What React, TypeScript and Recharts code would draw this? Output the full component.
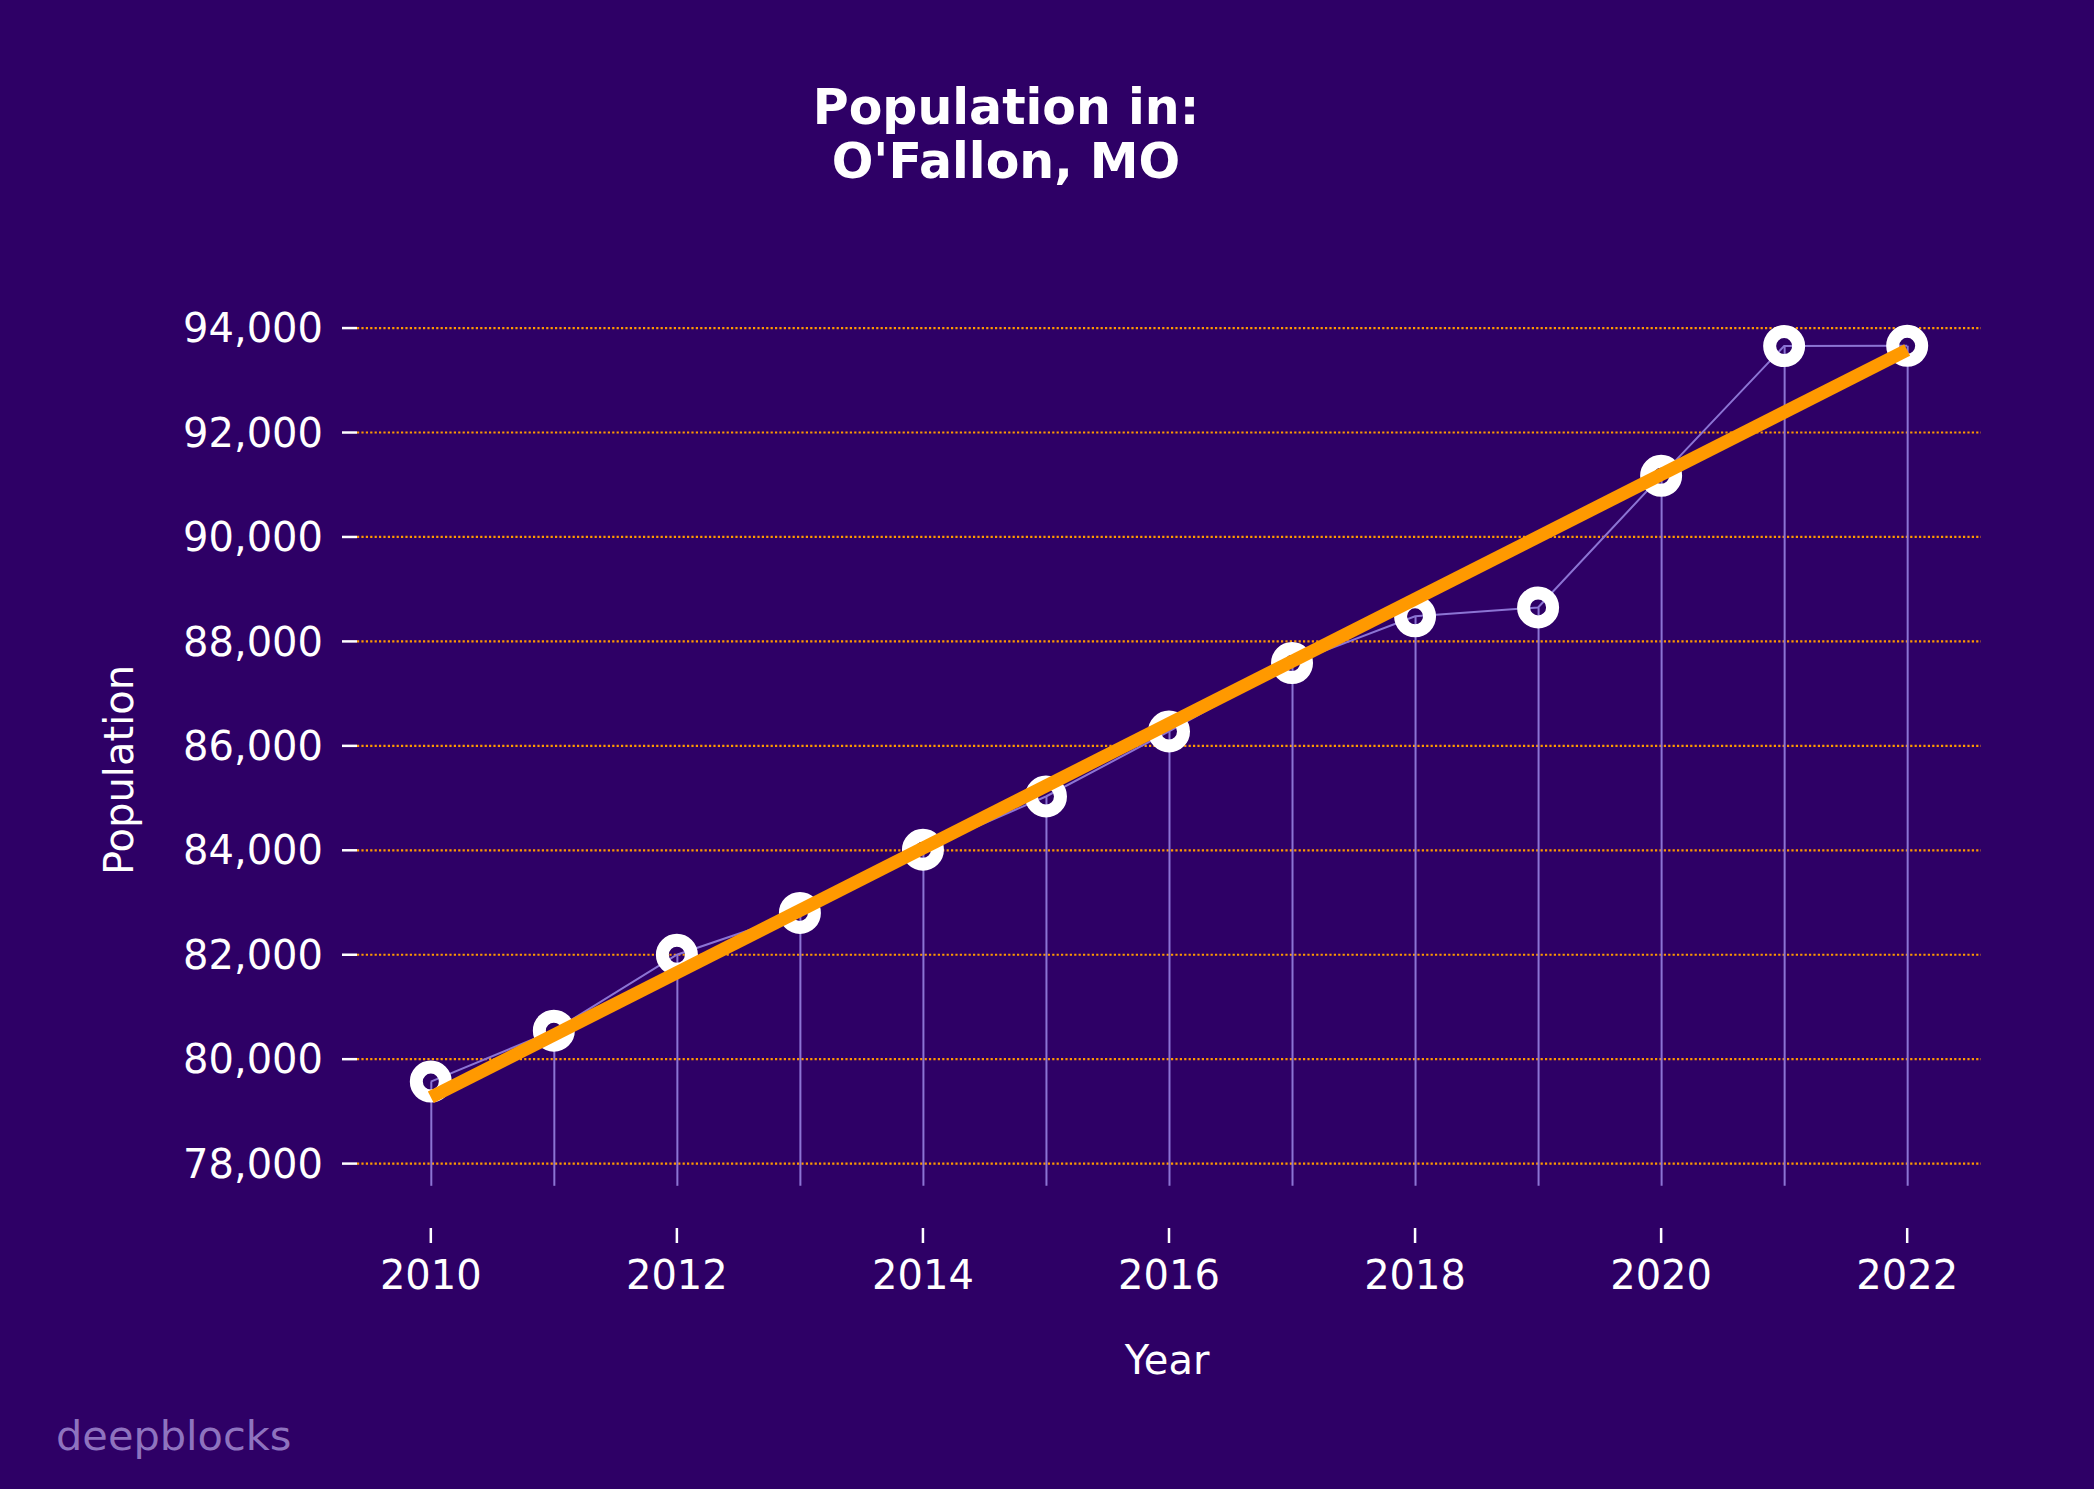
import React from 'react'
import { Bar, CartesianGrid, ComposedChart, Line, LineChart, XAxis, YAxis } from 'recharts'

// O'Fallon, MO — 연도별 인구, 값은 그림에서 읽은 추정치
const YEARS = [2010, 2011, 2012, 2013, 2014, 2015, 2016, 2017, 2018, 2019, 2020, 2021, 2022]
const POPULATION = [79570, 80545, 82000, 82800, 84010, 85030, 86275, 87585, 88480, 88650, 91170, 93656, 93660]
// 추세선 양 끝값
const TREND_YEARS = [2010, 2022]
const TREND_VALUES = [79270, 93580]
// 세로 줄기의 아래 끝
const STEM_BASE = 77575
const X_TICKS = [2010, 2012, 2014, 2016, 2018, 2020, 2022]
const Y_TICKS = [78000, 80000, 82000, 84000, 86000, 88000, 90000, 92000, 94000]

const X_DOMAIN = [2009.4, 2022.6]
const Y_DOMAIN = [76767, 94461]

const BG = '#2e0066'
const ORANGE = '#ff9900'
const LAVENDER = '#8c74d4'
const FONT = '"DejaVu Sans", Verdana, sans-serif'
const W = 2094
const H = 1489

const data = YEARS.map((year, i) => ({
  year,
  population: POPULATION[i],
  stem: [STEM_BASE, POPULATION[i]],
}))

const trendData = TREND_YEARS.map((year, i) => ({ year, trend: TREND_VALUES[i] }))

export default function App() {
  return (
    <div style={{ position: 'absolute', left: 0, top: 0, width: W, height: H, background: BG }}>
      <ComposedChart
        width={W}
        height={H}
        data={data}
        margin={{ top: 304, right: 113, bottom: 161, left: 157 }}
      >
        <CartesianGrid
          vertical={false}
          horizontalValues={Y_TICKS}
          stroke={ORANGE}
          strokeWidth={2.2}
          strokeDasharray="2.2 2.2"
        />
        <XAxis
          dataKey="year"
          type="number"
          domain={X_DOMAIN}
          ticks={X_TICKS}
          allowDataOverflow
          height={100}
          axisLine={false}
          tickSize={15}
          tickMargin={18}
          tickLine={{ stroke: '#ffffff', strokeWidth: 2.5 }}
          tick={{ fill: '#ffffff', fontSize: 40, fontFamily: FONT }}
        />
        <YAxis
          type="number"
          domain={Y_DOMAIN}
          ticks={Y_TICKS}
          allowDataOverflow
          width={200}
          axisLine={false}
          tickSize={15}
          tickMargin={19}
          tickLine={{ stroke: '#ffffff', strokeWidth: 2.5 }}
          tick={{ fill: '#ffffff', fontSize: 40, fontFamily: FONT }}
          tickFormatter={(v: number) => v.toLocaleString('en-US')}
        />
        <Bar dataKey="stem" barSize={2} fill={LAVENDER} isAnimationActive={false} />
        <Line
          dataKey="population"
          stroke={LAVENDER}
          strokeWidth={2}
          dot={{ r: 14.5, fill: 'none', stroke: '#ffffff', strokeWidth: 13 }}
          activeDot={false}
          isAnimationActive={false}
        />
      </ComposedChart>

      {/* 추세선은 마커 위에 그려야 해서 같은 축 범위의 차트를 한 장 더 겹친다 */}
      <div style={{ position: 'absolute', left: 0, top: 0 }}>
        <LineChart
          width={W}
          height={H}
          data={trendData}
          margin={{ top: 304, right: 113, bottom: 261, left: 357 }}
        >
          <XAxis dataKey="year" type="number" domain={X_DOMAIN} allowDataOverflow hide />
          <YAxis type="number" domain={Y_DOMAIN} allowDataOverflow hide />
          <Line
            dataKey="trend"
            stroke={ORANGE}
            strokeWidth={13}
            dot={false}
            activeDot={false}
            isAnimationActive={false}
          />
        </LineChart>
      </div>

      <svg
        width={W}
        height={H}
        style={{ position: 'absolute', left: 0, top: 0, pointerEvents: 'none' }}
      >
        <text x={1006} y={124} textAnchor="middle" fill="#ffffff" fontSize={49} fontWeight="bold" fontFamily={FONT}>
          Population in:
        </text>
        <text x={1006} y={178} textAnchor="middle" fill="#ffffff" fontSize={49} fontWeight="bold" fontFamily={FONT}>
          O'Fallon, MO
        </text>
        <text x={1167} y={1374} textAnchor="middle" fill="#ffffff" fontSize={40} fontFamily={FONT}>
          Year
        </text>
        <text
          x={133}
          y={770}
          transform="rotate(-90, 133, 770)"
          textAnchor="middle"
          fill="#ffffff"
          fontSize={40}
          fontFamily={FONT}
        >
          Population
        </text>
        <text x={56} y={1450} fill="#8e73bf" fontSize={41.5} fontFamily={FONT}>
          deepblocks
        </text>
      </svg>
    </div>
  )
}
